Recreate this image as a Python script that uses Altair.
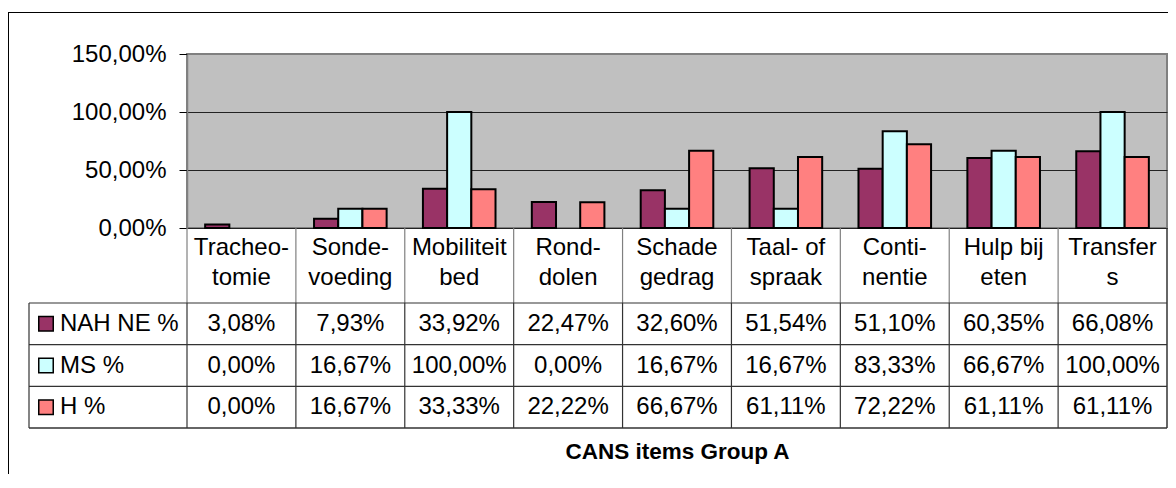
import altair as alt
import pandas as pd

# ---------------- data ----------------
categories = ["Tracheo-\ntomie", "Sonde-\nvoeding", "Mobiliteit\nbed", "Rond-\ndolen",
              "Schade\ngedrag", "Taal- of\nspraak", "Conti-\nnentie", "Hulp bij\neten",
              "Transfer\ns"]
series_names = ["NAH NE %", "MS %", "H %"]
nah_ne = [3.08, 7.93, 33.92, 22.47, 32.60, 51.54, 51.10, 60.35, 66.08]
ms = [0.00, 16.67, 100.00, 0.00, 16.67, 16.67, 83.33, 66.67, 100.00]
h = [0.00, 16.67, 33.33, 22.22, 66.67, 61.11, 72.22, 61.11, 61.11]
colors = ["#993366", "#CCFFFF", "#FF8080"]
y_ticks = [0, 0.5, 1.0, 1.5]
x_title = "CANS items Group A"

rows = []
for s, vals in zip(series_names, [nah_ne, ms, h]):
    for c, v in zip(categories, vals):
        rows.append({"cat": c, "series": s, "value": v / 100.0})
df = pd.DataFrame(rows)
catdf = pd.DataFrame({"cat": categories})
serdf = pd.DataFrame({"series": series_names})
one = pd.DataFrame({"k": [0]})
titledf = pd.DataFrame({"t": [x_title]})

# ---------------- layout ----------------
W, H = 980, 174
FONT = "Liberation Sans"
FS = 24
ROW_TOP, ROW_BOT = 249, 374
LEG_LEFT = -158
BOTTOM_PAD = 246

xscale = alt.Scale(domain=categories, paddingInner=0, paddingOuter=0)
rowscale = alt.Scale(type="band", domain=series_names, range=[ROW_TOP, ROW_BOT],
                     paddingInner=0, paddingOuter=0)
colscale = alt.Scale(domain=series_names, range=colors)

yaxis = alt.Axis(values=y_ticks, labelExpr="replace(format(datum.value, '.2%'), '.', ',')",
                 grid=True,
                 gridColor={"condition": {"test": "datum.value >= 1.5", "value": "#808080"}, "value": "#222222"},
                 gridWidth=1, tickColor="black", tickSize=8, tickWidth=1,
                 domainColor="#808080", domainWidth=1.5,
                 labelFont=FONT, labelFontSize=FS, labelColor="black", labelPadding=13,
                 title=None)
xaxis = alt.Axis(labels=False, ticks=False, domainColor="black", domainWidth=1.5, title=None)

bars = alt.Chart(df).transform_filter("datum.value > 0").mark_bar(stroke="black", strokeWidth=2).encode(
    x=alt.X("cat:N", scale=xscale, axis=xaxis),
    xOffset=alt.XOffset("series:N", scale=alt.Scale(domain=series_names, paddingInner=0, paddingOuter=0.75)),
    y=alt.Y("value:Q", scale=alt.Scale(domain=[0, 1.5], nice=False), axis=yaxis),
    color=alt.Color("series:N", scale=colscale, legend=None),
)

xc = alt.X("cat:N", scale=xscale, axis=None, bandPosition=0.5)
xl = alt.X("cat:N", scale=xscale, axis=None, bandPosition=0)

cat_labels = alt.Chart(catdf).mark_text(font=FONT, fontSize=FS, color="black", lineBreak="\n",
                                        lineHeight=30, baseline="middle").encode(
    x=xc, y=alt.value(194), text="cat:N")

sep_label = alt.Chart(catdf).mark_rule(color="#808080", strokeWidth=1.2).encode(
    x=xl, y=alt.value(H), y2=alt.value(ROW_TOP))
sep_data = alt.Chart(catdf).mark_rule(color="#333333", strokeWidth=1.2).encode(
    x=xl, y=alt.value(ROW_TOP), y2=alt.value(ROW_BOT))
right_border = alt.Chart(pd.DataFrame({"cat": [categories[-1]]})).mark_rule(color="#333333", strokeWidth=1.5).encode(
    x=alt.X("cat:N", scale=xscale, axis=None, bandPosition=1), y=alt.value(H), y2=alt.value(ROW_BOT))

hlines = alt.Chart(serdf).mark_rule(color="#333333", strokeWidth=1.2).encode(
    y=alt.Y("series:N", scale=rowscale, axis=None, bandPosition=0),
    x=alt.value(LEG_LEFT), x2=alt.value(W))
hbottom = alt.Chart(pd.DataFrame({"series": [series_names[-1]]})).mark_rule(color="#333333", strokeWidth=1.5).encode(
    y=alt.Y("series:N", scale=rowscale, axis=None, bandPosition=1),
    x=alt.value(LEG_LEFT), x2=alt.value(W))
leg_left = alt.Chart(one).mark_rule(color="#333333", strokeWidth=1.2).encode(
    x=alt.value(LEG_LEFT), y=alt.value(ROW_TOP), y2=alt.value(ROW_BOT))

yrow = alt.Y("series:N", scale=rowscale, axis=None, bandPosition=0.5)
swatches = alt.Chart(serdf).mark_square(size=210, stroke="black", strokeWidth=1.5, opacity=1).encode(
    x=alt.value(-141), y=yrow, color=alt.Color("series:N", scale=colscale, legend=None))
ser_labels = alt.Chart(serdf).mark_text(font=FONT, fontSize=FS, color="black", align="left",
                                        baseline="middle").encode(
    x=alt.value(-127), y=yrow, text="series:N")

values = alt.Chart(df).transform_calculate(
    label="replace(format(datum.value, '.2%'), '.', ',')"
).mark_text(font=FONT, fontSize=FS, color="black", baseline="middle").encode(
    x=xc, y=yrow, text="label:N")

title = alt.Chart(titledf).mark_text(font=FONT, fontSize=22.5, fontWeight="bold", color="black",
                                     baseline="middle", align="center").encode(
    x=alt.value(W / 2 + 0.5), y=alt.value(398), text="t:N")

frame_left = alt.Chart(one).mark_rule(color="black", strokeWidth=1).encode(
    x=alt.value(-178.5), y=alt.value(-41.5), y2=alt.value(H + BOTTOM_PAD))
frame_top = alt.Chart(one).mark_rule(color="black", strokeWidth=1).encode(
    x=alt.value(-179), x2=alt.value(W + 1), y=alt.value(-41.5))

chart = alt.layer(
    bars, cat_labels, sep_label, sep_data, right_border, hlines, hbottom, leg_left,
    swatches, ser_labels, values, title, frame_left, frame_top
).resolve_scale(y="independent").properties(
    width=W, height=H, autosize="none",
    padding={"left": 179, "top": 46, "right": 1, "bottom": BOTTOM_PAD},
    background="white",
).configure_view(fill="#C0C0C0", stroke="#808080", strokeWidth=2)

chart.save("out.html", embed_options={"renderer": "svg", "actions": False})
